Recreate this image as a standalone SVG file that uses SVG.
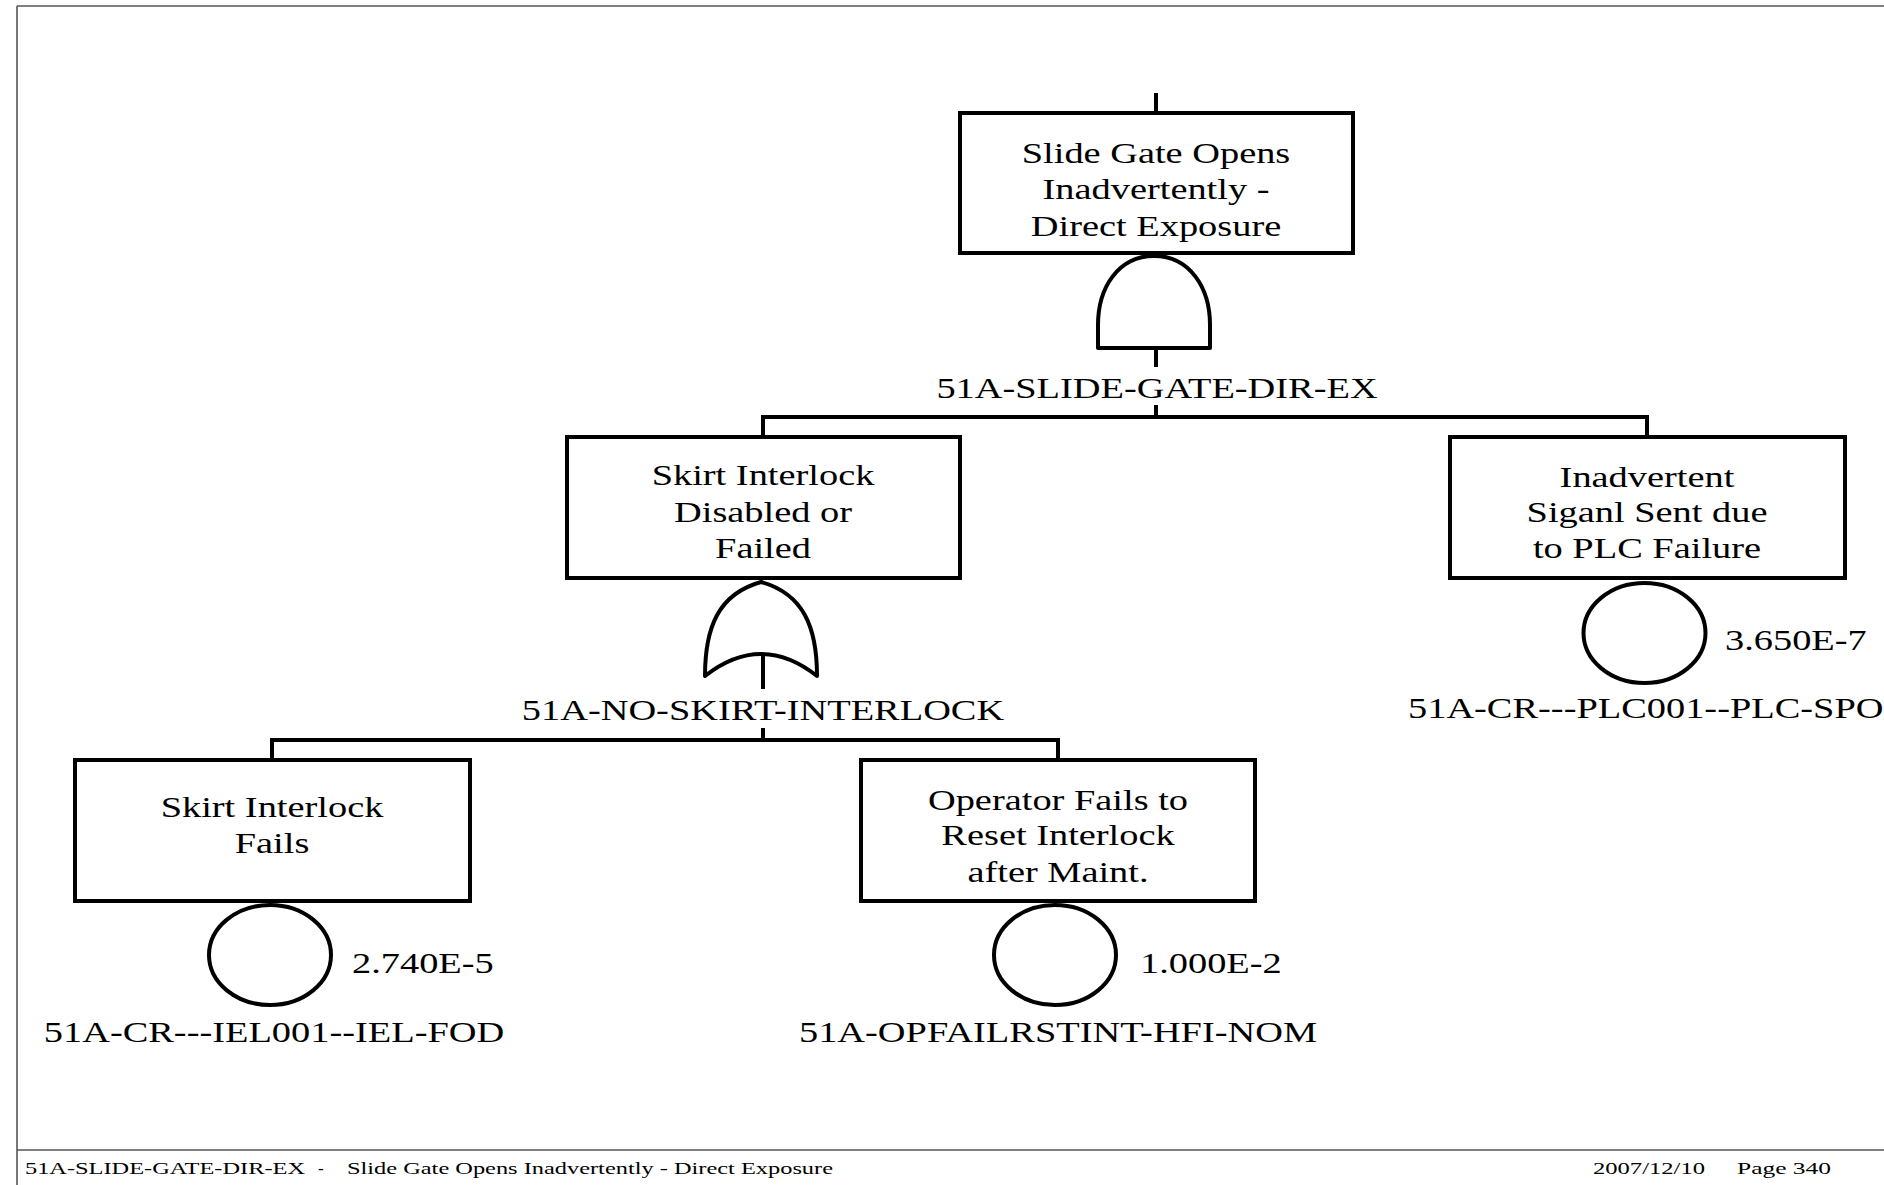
<svg xmlns="http://www.w3.org/2000/svg" width="1884" height="1185" viewBox="0 0 1884 1185">
<style>
.frame{stroke:#555;stroke-width:1.6;fill:none}
.box{fill:#fff;stroke:#000;stroke-width:4}
.gate{fill:#fff;stroke:#000;stroke-width:4;stroke-linejoin:round}
.ln{stroke:#000;stroke-width:4;fill:none}
.t{font-family:"Liberation Serif","Times New Roman",serif;font-size:30px;fill:#000}
.m{text-anchor:middle}
.f{font-family:"Liberation Serif","Times New Roman",serif;font-size:17px;fill:#000}
</style>
<rect width="1884" height="1185" fill="#fff"/>
<g id="frame">
<line class="frame" x1="17" y1="6" x2="1884" y2="6"/>
<line class="frame" x1="17" y1="6" x2="17" y2="1185"/>
<line class="frame" x1="17" y1="1150" x2="1884" y2="1150"/>
</g>
<g id="connectors">
<line class="ln" x1="1156" y1="93" x2="1156" y2="113"/>
<line class="ln" x1="1156" y1="348" x2="1156" y2="367"/>
<line class="ln" x1="1156" y1="405" x2="1156" y2="417"/>
<polyline class="ln" points="763,437 763,417 1647,417 1647,437"/>
<line class="ln" x1="763" y1="653" x2="763" y2="689"/>
<line class="ln" x1="763" y1="728" x2="763" y2="740"/>
<polyline class="ln" points="272,760 272,740 1058,740 1058,760"/>
</g>
<g id="top-event">
<rect class="box" x="960" y="113" width="393" height="140"/>
<text class="t m" transform="translate(1156,163) scale(1.28,1)"><tspan x="0" y="0">Slide Gate Opens</tspan><tspan x="0" y="36">Inadvertently -</tspan><tspan x="0" y="73">Direct Exposure</tspan></text>
</g>
<g id="gate-and">
<path class="gate" d="M1098,348 L1098,325 C1098,288 1118,256 1154,256 C1190,256 1210,288 1210,325 L1210,348 Z"/>
<text class="t m" transform="translate(1157,398) scale(1.28,1)">51A-SLIDE-GATE-DIR-EX</text>
</g>
<g id="skirt-disabled">
<rect class="box" x="567" y="437" width="393" height="141"/>
<text class="t m" transform="translate(763,485) scale(1.28,1)"><tspan x="0" y="0">Skirt Interlock</tspan><tspan x="0" y="37">Disabled or</tspan><tspan x="0" y="73">Failed</tspan></text>
</g>
<g id="gate-or">
<path class="gate" d="M761,582 C804,594 817,628 817,676 Q761,632 705,676 C705,628 718,594 761,582 Z"/>
<text class="t m" transform="translate(763,720) scale(1.28,1)">51A-NO-SKIRT-INTERLOCK</text>
</g>
<g id="plc-failure">
<rect class="box" x="1450" y="437" width="395" height="141"/>
<text class="t m" transform="translate(1647,487) scale(1.28,1)"><tspan x="0" y="0">Inadvertent</tspan><tspan x="0" y="35">Siganl Sent due</tspan><tspan x="0" y="71">to PLC Failure</tspan></text>
<ellipse class="gate" cx="1644.5" cy="633" rx="61" ry="50"/>
<text class="t" transform="translate(1725,650) scale(1.28,1)">3.650E-7</text>
<text class="t" transform="translate(1408,718) scale(1.28,1)">51A-CR---PLC001--PLC-SPO</text>
</g>
<g id="skirt-fails">
<rect class="box" x="75" y="760" width="395" height="141"/>
<text class="t m" transform="translate(272,817) scale(1.28,1)"><tspan x="0" y="0">Skirt Interlock</tspan><tspan x="0" y="36">Fails</tspan></text>
<ellipse class="gate" cx="270" cy="955" rx="61" ry="50"/>
<text class="t" transform="translate(352,973) scale(1.28,1)">2.740E-5</text>
<text class="t m" transform="translate(274,1042) scale(1.28,1)">51A-CR---IEL001--IEL-FOD</text>
</g>
<g id="operator-fails">
<rect class="box" x="861" y="760" width="394" height="141"/>
<text class="t m" transform="translate(1058,810) scale(1.28,1)"><tspan x="0" y="0">Operator Fails to</tspan><tspan x="0" y="35">Reset Interlock</tspan><tspan x="0" y="72">after Maint.</tspan></text>
<ellipse class="gate" cx="1055" cy="955" rx="61" ry="50"/>
<text class="t" transform="translate(1140,973) scale(1.28,1)">1.000E-2</text>
<text class="t m" transform="translate(1058,1042) scale(1.28,1)">51A-OPFAILRSTINT-HFI-NOM</text>
</g>
<g id="footer">
<text class="f" x="25" y="1174" textLength="280" lengthAdjust="spacingAndGlyphs">51A-SLIDE-GATE-DIR-EX</text>
<text class="f" x="318" y="1174">-</text>
<text class="f" x="347" y="1174" textLength="486" lengthAdjust="spacingAndGlyphs">Slide Gate Opens Inadvertently - Direct Exposure</text>
<text class="f" x="1593" y="1174" textLength="112" lengthAdjust="spacingAndGlyphs">2007/12/10</text>
<text class="f" x="1737" y="1174" textLength="94" lengthAdjust="spacingAndGlyphs">Page 340</text>
</g>
</svg>
